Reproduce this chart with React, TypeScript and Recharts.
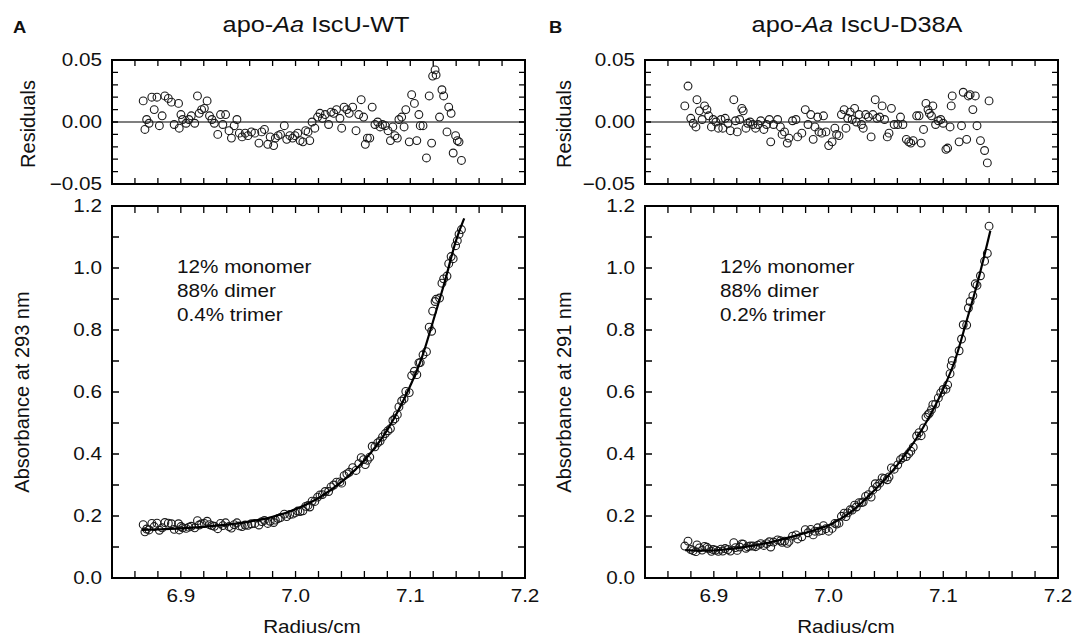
import React from 'react'
import { ScatterChart, Scatter, XAxis, YAxis, ReferenceLine } from 'recharts'

const FONT = '"Liberation Sans", Arial, Helvetica, sans-serif'
const SX = 1.15

// axis ticks
const xTicks = [6.86, 6.88, 6.9, 6.92, 6.94, 6.96, 6.98, 7.0, 7.02, 7.04, 7.06, 7.08, 7.1, 7.12, 7.14, 7.16, 7.18, 7.2]
const xTickValues = [6.9, 7.0, 7.1, 7.2]
const xTickLabels = ['6.9', '7.0', '7.1', '7.2']
const resTicks = [-0.05, -0.04, -0.03, -0.02, -0.01, 0, 0.01, 0.02, 0.03, 0.04, 0.05]
const resTickValues = [-0.05, 0, 0.05]
const resTickLabels = ['\u22120.05', '0.00', '0.05']
const absTicks = [0, 0.1, 0.2, 0.3, 0.4, 0.5, 0.6, 0.7, 0.8, 0.9, 1.0, 1.1, 1.2]
const absTickValues = [0, 0.2, 0.4, 0.6, 0.8, 1.0, 1.2]
const absTickLabels = ['0.0', '0.2', '0.4', '0.6', '0.8', '1.0', '1.2']

// panel A: apo-Aa IscU-WT
const radiusA = [
  6.8672, 6.8687, 6.8702, 6.8723, 6.8747, 6.8768, 6.8792, 6.8813, 6.8837, 6.8861,
  6.8891, 6.8918, 6.8942, 6.8980, 6.8986, 6.9001, 6.9016, 6.9046, 6.9070, 6.9091,
  6.9121, 6.9145, 6.9160, 6.9181, 6.9205, 6.9229, 6.9250, 6.9271, 6.9292, 6.9322,
  6.9346, 6.9366, 6.9390, 6.9420, 6.9441, 6.9465, 6.9489, 6.9510, 6.9534, 6.9561,
  6.9585, 6.9615, 6.9645, 6.9681, 6.9705, 6.9729, 6.9758, 6.9779, 6.9809, 6.9824,
  6.9848, 6.9869, 6.9902, 6.9923, 6.9950, 6.9974, 6.9995, 7.0019, 7.0040, 7.0064,
  7.0088, 7.0109, 7.0124, 7.0144, 7.0168, 7.0192, 7.0213, 7.0234, 7.0258, 7.0288,
  7.0309, 7.0333, 7.0357, 7.0387, 7.0402, 7.0423, 7.0447, 7.0468, 7.0498, 7.0527,
  7.0551, 7.0572, 7.0593, 7.0608, 7.0626, 7.0647, 7.0668, 7.0692, 7.0716, 7.0737,
  7.0758, 7.0782, 7.0806, 7.0827, 7.0848, 7.0866, 7.0887, 7.0901, 7.0925, 7.0946,
  7.0961, 7.0991, 7.1012, 7.1036, 7.1057, 7.1075, 7.1087, 7.1111, 7.1141, 7.1165,
  7.1186, 7.1195, 7.1216, 7.1225, 7.1255, 7.1276, 7.1291, 7.1320, 7.1335, 7.1356,
  7.1374, 7.1395, 7.1410, 7.1425, 7.1446,
]
const residualA = [
  0.017, -0.006, 0.002, -0.001, 0.020, 0.010, 0.020, -0.003, 0.005, 0.021,
  0.019, 0.016, -0.002, 0.015, -0.005, 0.006, 0.002, -0.001, 0.002, 0.005,
  -0.001, 0.021, 0.007, 0.010, 0.011, 0.017, 0.005, 0.002, -0.001, -0.010,
  0.006, -0.002, 0.006, -0.007, -0.013, -0.003, 0.002, -0.009, -0.012, -0.009,
  -0.011, -0.008, -0.009, -0.017, -0.008, -0.006, -0.018, -0.012, -0.019, -0.013,
  -0.011, -0.010, -0.003, -0.014, -0.011, -0.013, -0.011, -0.009, -0.015, -0.016,
  -0.007, -0.008, -0.015, 0.000, -0.005, 0.004, 0.007, 0.003, 0.006, -0.002,
  0.008, 0.007, 0.010, 0.003, -0.005, 0.012, 0.010, 0.007, 0.012, -0.007,
  0.006, 0.018, 0.004, -0.018, -0.013, -0.013, 0.012, -0.002, 0.000, -0.004,
  -0.002, -0.003, -0.007, -0.015, -0.004, -0.011, -0.013, 0.002, 0.004, -0.004,
  0.010, -0.016, 0.022, 0.015, -0.015, 0.006, -0.003, -0.003, -0.029, 0.021,
  -0.017, 0.037, 0.042, 0.038, 0.004, 0.026, 0.021, -0.008, 0.012, 0.007,
  -0.025, -0.011, -0.015, -0.016, -0.031,
]
const absorbanceA = [
  0.172, 0.149, 0.158, 0.155, 0.176, 0.166, 0.177, 0.154, 0.162, 0.179,
  0.177, 0.175, 0.157, 0.175, 0.155, 0.166, 0.162, 0.160, 0.164, 0.167,
  0.162, 0.185, 0.171, 0.175, 0.176, 0.183, 0.172, 0.169, 0.167, 0.159,
  0.176, 0.169, 0.178, 0.166, 0.161, 0.172, 0.178, 0.168, 0.166, 0.171,
  0.170, 0.175, 0.176, 0.171, 0.182, 0.186, 0.176, 0.183, 0.179, 0.187,
  0.192, 0.195, 0.206, 0.198, 0.205, 0.206, 0.210, 0.216, 0.214, 0.217,
  0.231, 0.234, 0.229, 0.248, 0.247, 0.261, 0.268, 0.269, 0.279, 0.279,
  0.294, 0.300, 0.309, 0.310, 0.306, 0.330, 0.336, 0.341, 0.356, 0.347,
  0.369, 0.388, 0.382, 0.366, 0.380, 0.390, 0.425, 0.423, 0.436, 0.442,
  0.455, 0.466, 0.475, 0.482, 0.508, 0.514, 0.527, 0.552, 0.571, 0.578,
  0.602, 0.598, 0.653, 0.667, 0.656, 0.694, 0.695, 0.720, 0.730, 0.809,
  0.796, 0.861, 0.892, 0.899, 0.903, 0.951, 0.965, 0.974, 1.014, 1.037,
  1.030, 1.072, 1.088, 1.109, 1.124,
]
const fitRadiusA = [6.866, 6.88, 6.9, 6.92, 6.94, 6.96, 6.98, 7.0, 7.02, 7.04, 7.06, 7.08, 7.1, 7.11, 7.12, 7.13, 7.14, 7.147]
const fitAbsA = [0.155, 0.157, 0.16, 0.165, 0.172, 0.182, 0.197, 0.222, 0.258, 0.31, 0.38, 0.478, 0.62, 0.71, 0.83, 0.955, 1.09, 1.16]

// panel B: apo-Aa IscU-D38A
const radiusB = [
  6.8747, 6.8775, 6.8799, 6.8820, 6.8844, 6.8853, 6.8874, 6.8898, 6.8919, 6.8940,
  6.8955, 6.8979, 6.8994, 6.9018, 6.9039, 6.9063, 6.9078, 6.9099, 6.9123, 6.9144,
  6.9174, 6.9189, 6.9204, 6.9225, 6.9244, 6.9256, 6.9280, 6.9295, 6.9316, 6.9340,
  6.9364, 6.9385, 6.9409, 6.9436, 6.9460, 6.9484, 6.9496, 6.9520, 6.9556, 6.9580,
  6.9595, 6.9616, 6.9640, 6.9655, 6.9686, 6.9716, 6.9731, 6.9767, 6.9797, 6.9821,
  6.9845, 6.9866, 6.9881, 6.9905, 6.9917, 6.9941, 6.9956, 6.9977, 7.0001, 7.0031,
  7.0055, 7.0070, 7.0091, 7.0112, 7.0136, 7.0152, 7.0167, 7.0188, 7.0206, 7.0227,
  7.0242, 7.0266, 7.0287, 7.0302, 7.0323, 7.0347, 7.0371, 7.0386, 7.0407, 7.0422,
  7.0446, 7.0467, 7.0488, 7.0512, 7.0527, 7.0548, 7.0572, 7.0603, 7.0627, 7.0648,
  7.0678, 7.0699, 7.0717, 7.0738, 7.0768, 7.0789, 7.0807, 7.0828, 7.0849, 7.0867,
  7.0879, 7.0897, 7.0909, 7.0933, 7.0957, 7.0978, 7.0999, 7.1023, 7.1038, 7.1059,
  7.1069, 7.1078, 7.1138, 7.1159, 7.1174, 7.1204, 7.1219, 7.1234, 7.1258, 7.1279,
  7.1294, 7.1324, 7.1360, 7.1384, 7.1399,
]
const residualB = [
  0.013, 0.029, 0.003, -0.001, -0.004, 0.018, 0.009, 0.002, 0.013, 0.010,
  0.005, -0.004, 0.002, 0.000, -0.005, 0.002, -0.005, 0.003, -0.001, -0.007,
  0.018, 0.001, -0.008, 0.002, 0.011, 0.009, -0.005, -0.001, 0.000, -0.002,
  -0.005, -0.002, 0.001, -0.006, -0.002, 0.002, -0.016, -0.002, 0.002, -0.004,
  -0.010, -0.008, -0.017, -0.013, 0.001, 0.002, -0.012, -0.009, 0.010, -0.002,
  0.006, -0.014, -0.004, 0.004, -0.008, -0.009, 0.005, -0.008, -0.019, -0.016,
  -0.005, -0.010, -0.011, 0.006, 0.010, -0.005, 0.003, 0.008, 0.002, 0.011,
  0.000, 0.006, -0.002, -0.005, 0.006, 0.004, -0.012, 0.006, 0.018, 0.003,
  0.004, 0.013, 0.002, -0.012, -0.009, 0.011, -0.002, -0.002, 0.004, -0.002,
  -0.014, -0.016, -0.017, -0.015, 0.005, 0.005, -0.017, -0.006, 0.015, 0.010,
  0.007, 0.005, 0.013, -0.002, 0.001, 0.002, -0.001, -0.022, -0.021, -0.004,
  0.013, 0.021, -0.016, -0.003, 0.024, -0.014, 0.021, 0.022, 0.010, 0.021,
  -0.003, -0.015, -0.023, -0.033, 0.017,
]
const absorbanceB = [
  0.103, 0.119, 0.092, 0.088, 0.085, 0.107, 0.097, 0.090, 0.102, 0.099,
  0.094, 0.086, 0.092, 0.090, 0.086, 0.093, 0.087, 0.095, 0.092, 0.087,
  0.114, 0.098, 0.089, 0.100, 0.110, 0.109, 0.096, 0.101, 0.103, 0.103,
  0.101, 0.106, 0.111, 0.105, 0.111, 0.117, 0.100, 0.116, 0.123, 0.120,
  0.115, 0.119, 0.112, 0.118, 0.135, 0.139, 0.126, 0.133, 0.156, 0.146,
  0.157, 0.139, 0.151, 0.162, 0.151, 0.153, 0.169, 0.159, 0.151, 0.160,
  0.176, 0.174, 0.177, 0.199, 0.209, 0.198, 0.210, 0.220, 0.219, 0.235,
  0.229, 0.243, 0.243, 0.245, 0.263, 0.269, 0.261, 0.284, 0.304, 0.295,
  0.306, 0.323, 0.321, 0.317, 0.326, 0.355, 0.351, 0.365, 0.382, 0.388,
  0.392, 0.401, 0.409, 0.422, 0.458, 0.469, 0.459, 0.484, 0.519, 0.527,
  0.532, 0.543, 0.559, 0.561, 0.581, 0.597, 0.608, 0.609, 0.623, 0.659,
  0.685, 0.701, 0.733, 0.771, 0.817, 0.816, 0.871, 0.892, 0.911, 0.949,
  0.944, 0.975, 1.022, 1.047, 1.135,
]
const fitRadiusB = [6.875, 6.89, 6.91, 6.93, 6.95, 6.97, 6.99, 7.0, 7.01, 7.02, 7.04, 7.06, 7.08, 7.1, 7.11, 7.12, 7.13, 7.141]
const fitAbsB = [0.09, 0.088, 0.092, 0.102, 0.116, 0.135, 0.157, 0.17, 0.19, 0.215, 0.283, 0.365, 0.47, 0.61, 0.7, 0.825, 0.955, 1.12]

const notesA = ['12% monomer', '88% dimer', '0.4% trimer']
const notesB = ['12% monomer', '88% dimer', '0.2% trimer']

const X_DOMAIN: [number, number] = [6.84, 7.2]
const RES_DOMAIN: [number, number] = [-0.05, 0.05]
const ABS_DOMAIN: [number, number] = [0, 1.2]

// chart boxes (must agree with the chart margins / axis widths below)
const PLOT_LEFT = 112
const PLOT_W = 413
const RES_TOP = 60
const RES_H = 124
const ABS_TOP = 206
const ABS_H = 372
const PANEL_X = [0, 533]

const labelFor = (values: number[], labels: string[]) => (v: number) => {
  const i = values.findIndex((t) => Math.abs(t - v) < 1e-6)
  return i < 0 ? '' : labels[i]
}
const fmtX = labelFor(xTickValues, xTickLabels)
const fmtRes = labelFor(resTickValues, resTickLabels)
const fmtAbs = labelFor(absTickValues, absTickLabels)

const makeTick = (side: 'left' | 'bottom', fmt: (v: number) => string) => (p: any) => {
  const label = fmt(p.payload.value)
  if (!label) return <g />
  if (side === 'left')
    return (
      <text transform={`translate(${p.x - 10},${p.y}) scale(${SX},1)`} textAnchor="end" dy="0.36em" fontSize={18} fontFamily={FONT} fill="#111">
        {label}
      </text>
    )
  return (
    <text transform={`translate(${p.x},${p.y + 11}) scale(${SX},1)`} textAnchor="middle" dy="0.72em" fontSize={18} fontFamily={FONT} fill="#111">
      {label}
    </text>
  )
}

const axisLine = { stroke: '#000', strokeWidth: 2, strokeLinecap: 'square' as const }

// inward ticks on all four sides of a box, plus its outline
function BoxTicks({ left, top, h, yTicks, yDom, len }: any) {
  const [xa, xb] = X_DOMAIN
  const [ya, yb] = yDom
  const px = (v: number) => left + ((v - xa) / (xb - xa)) * PLOT_W
  const py = (v: number) => top + ((yb - v) / (yb - ya)) * h
  const segs: number[][] = []
  xTicks.forEach((t) => {
    segs.push([px(t), top + h, px(t), top + h - len])
    segs.push([px(t), top, px(t), top + len])
  })
  yTicks.forEach((t: number) => {
    segs.push([left, py(t), left + len, py(t)])
    segs.push([left + PLOT_W, py(t), left + PLOT_W - len, py(t)])
  })
  const d = segs.map((s) => `M${s[0]},${s[1]}L${s[2]},${s[3]}`).join('')
  return (
    <g>
      <path d={d} stroke="#000" strokeWidth={1.3} fill="none" />
      <rect x={left} y={top} width={PLOT_W} height={h} stroke="#000" strokeWidth={2} fill="none" />
    </g>
  )
}

// 2px frame centred on the plot box edges
function Frame({ left, top, h }: any) {
  return (
    <div
      style={{
        position: 'absolute',
        left: left - 1,
        top: top - 1,
        width: PLOT_W + 2,
        height: h + 2,
        border: '2px solid #000',
        boxSizing: 'border-box',
        pointerEvents: 'none',
      }}
    />
  )
}

const openCircle = (p: any) => (
  <circle cx={p.cx} cy={p.cy} r={3.9} fill="none" stroke="#1a1a1a" strokeWidth={1.1} />
)
const noShape = () => <g />

function Stretch({ x, y, size, anchor = 'start', weight, children }: any) {
  return (
    <text
      transform={`translate(${x},${y}) scale(${SX},1)`}
      textAnchor={anchor}
      fontSize={size}
      fontWeight={weight}
      fontFamily={FONT}
      fill="#111"
    >
      {children}
    </text>
  )
}

function Panel({ x0, radius, residual, absorbance, fitR, fitA }: any) {
  const resData = radius.map((r: number, i: number) => ({ r, res: residual[i] }))
  const absData = radius.map((r: number, i: number) => ({ r, abs: absorbance[i] }))
  const fitData = fitR.map((r: number, i: number) => ({ r, abs: fitA[i] }))
  const common = { tickSize: 0, tickMargin: 0, tickLine: false, interval: 0 as const, axisLine }
  const xCommon = { ...common, type: 'number' as const, dataKey: 'r', domain: X_DOMAIN, ticks: xTicks }
  const right = 540 - PLOT_LEFT - PLOT_W
  return (
    <>
      <div style={{ position: 'absolute', left: x0, top: 0 }}>
        <ScatterChart width={540} height={200} margin={{ top: RES_TOP, right, bottom: 200 - RES_TOP - RES_H, left: 0 }}>
          <XAxis xAxisId="b" hide {...xCommon} />
          <YAxis yAxisId="l" width={PLOT_LEFT} tick={makeTick('left', fmtRes)} {...common} type="number" dataKey="res" domain={RES_DOMAIN} ticks={resTicks} />
          <ReferenceLine xAxisId="b" yAxisId="l" y={0} stroke="#000" strokeWidth={1.2} />
          <Scatter xAxisId="b" yAxisId="l" data={resData} shape={openCircle} isAnimationActive={false} />
        </ScatterChart>
      </div>
      <div style={{ position: 'absolute', left: x0, top: 0 }}>
        <ScatterChart width={540} height={642} margin={{ top: ABS_TOP, right, bottom: 0, left: 0 }}>
          <XAxis xAxisId="b" orientation="bottom" height={642 - ABS_TOP - ABS_H} tick={makeTick('bottom', fmtX)} {...xCommon} />
          <YAxis yAxisId="l" width={PLOT_LEFT} tick={makeTick('left', fmtAbs)} {...common} type="number" dataKey="abs" domain={ABS_DOMAIN} ticks={absTicks} />
          <Scatter xAxisId="b" yAxisId="l" data={absData} shape={openCircle} isAnimationActive={false} />
          <Scatter
            xAxisId="b"
            yAxisId="l"
            data={fitData}
            shape={noShape}
            line={{ stroke: '#000', strokeWidth: 2.2 }}
            lineJointType="monotoneX"
            isAnimationActive={false}
          />
        </ScatterChart>
      </div>
    </>
  )
}

export default function App() {
  return (
    <div style={{ position: 'absolute', left: 0, top: 0, width: 1073, height: 642, background: '#fff', overflow: 'hidden' }}>
      <Panel x0={PANEL_X[0]} radius={radiusA} residual={residualA} absorbance={absorbanceA} fitR={fitRadiusA} fitA={fitAbsA} />
      <Panel x0={PANEL_X[1]} radius={radiusB} residual={residualB} absorbance={absorbanceB} fitR={fitRadiusB} fitA={fitAbsB} />
      {PANEL_X.map((x0) => (
        <React.Fragment key={'frame' + x0}>
          <Frame left={x0 + PLOT_LEFT} top={RES_TOP} h={RES_H} />
          <Frame left={x0 + PLOT_LEFT} top={ABS_TOP} h={ABS_H} />
        </React.Fragment>
      ))}
      <svg width={1073} height={642} style={{ position: 'absolute', left: 0, top: 0, pointerEvents: 'none' }}>
        {PANEL_X.map((x0) => (
          <g key={'ticks' + x0}>
            <BoxTicks left={x0 + PLOT_LEFT} top={RES_TOP} h={RES_H} yTicks={resTicks} yDom={RES_DOMAIN} len={6} />
            <BoxTicks left={x0 + PLOT_LEFT} top={ABS_TOP} h={ABS_H} yTicks={absTicks} yDom={ABS_DOMAIN} len={7} />
          </g>
        ))}
        <Stretch x={13} y={33} size={16} weight="bold">A</Stretch>
        <Stretch x={549} y={33} size={16} weight="bold">B</Stretch>
        <Stretch x={316} y={32} size={22} anchor="middle">
          apo-<tspan fontStyle="italic">Aa</tspan> IscU-WT
        </Stretch>
        <Stretch x={857} y={32} size={22} anchor="middle">
          apo-<tspan fontStyle="italic">Aa</tspan> IscU-D38A
        </Stretch>
        {[{ x: 35, t: 'Residuals', y: 124 }, { x: 29, t: 'Absorbance at 293 nm', y: 392 }, { x: 571, t: 'Residuals', y: 124 }, { x: 571, t: 'Absorbance at 291 nm', y: 392 }].map((d) => (
          <text key={d.x + d.t} transform={`translate(${d.x},${d.y}) rotate(-90)`} textAnchor="middle" fontSize={20} fontFamily={FONT} fill="#111">
            {d.t}
          </text>
        ))}
        <Stretch x={312} y={633} size={18} anchor="middle">Radius/cm</Stretch>
        <Stretch x={846} y={633} size={18} anchor="middle">Radius/cm</Stretch>
        {notesA.map((t, i) => (
          <Stretch key={'a' + i} x={177} y={273 + i * 24} size={18}>{t}</Stretch>
        ))}
        {notesB.map((t, i) => (
          <Stretch key={'b' + i} x={720} y={273 + i * 24} size={18}>{t}</Stretch>
        ))}
      </svg>
    </div>
  )
}
